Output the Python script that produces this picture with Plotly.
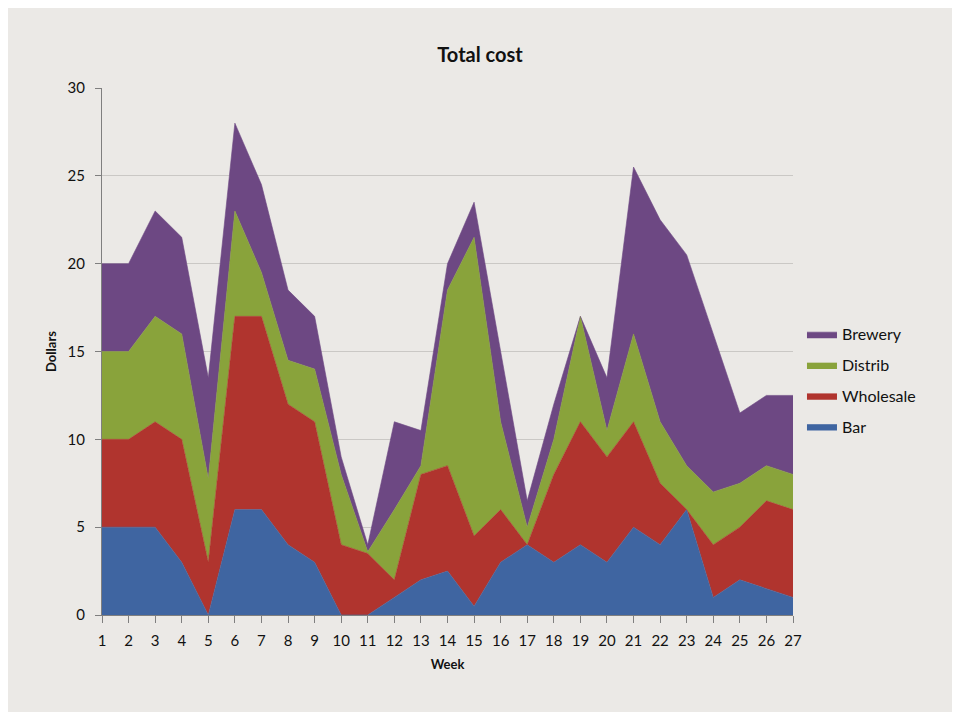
import plotly.graph_objects as go

# weekly cost per role (dollars)
weeks = list(range(1, 28))
bar = [5, 5, 5, 3, 0, 6, 6, 4, 3, 0, 0, 1, 2, 2.5, 0.5, 3, 4, 3, 4, 3, 5, 4, 6, 1, 2, 1.5, 1]
wholesale = [5, 5, 6, 7, 3, 11, 11, 8, 8, 4, 3.5, 1, 6, 6, 4, 3, 0, 5, 7, 6, 6, 3.5, 0, 3, 3, 5, 5]
distrib = [5, 5, 6, 6, 4.75, 6, 2.5, 2.5, 3, 4, 0.1, 4, 0.5, 10, 17, 5, 1, 2, 6, 1.5, 5, 3.5, 2.5, 3, 2.5, 2, 2]
brewery = [5, 5, 6, 5.5, 5.75, 5, 5, 4, 3, 1, 0.4, 5, 2, 1.5, 2, 4, 1.5, 2, 0, 3, 9.5, 11.5, 12, 9, 4, 4, 4.5]

series = [
    ("Bar", bar, "#3f65a1"),
    ("Wholesale", wholesale, "#b0342e"),
    ("Distrib", distrib, "#89a33b"),
    ("Brewery", brewery, "#6d4883"),
]

fig = go.Figure()
for i, (name, vals, color) in enumerate(series):
    fig.add_trace(go.Scatter(
        x=weeks, y=vals, name=name, legendgroup=name,
        legendrank=len(series) - i,  # Brewery listed first
        mode="lines", stackgroup="cost",
        line=dict(color=color, width=0.6),
        fillcolor=color,
    ))

# page body has an 8px margin, so the figure is sized to fit inside it
W, H = 944, 704
bg = "#ebe9e6"
fig.update_layout(
    width=W, height=H,
    paper_bgcolor=bg, plot_bgcolor=bg,
    margin=dict(l=94, r=159, t=80, b=97),
    font=dict(family="Lato, Open Sans, sans-serif", color="#111111", size=15),
    title=dict(text="<b>Total cost</b>", x=0.5, xanchor="center", y=1 - 47 / H, yanchor="middle",
               font=dict(size=20, color="#111111")),
    showlegend=True,
    legend=dict(traceorder="grouped", x=1.013, xanchor="left", y=0.565, yanchor="top",
                bgcolor="rgba(0,0,0,0)", font=dict(size=16), itemwidth=30, tracegroupgap=7),
)

fig.update_xaxes(
    range=[1, 27], tickmode="linear", tick0=1, dtick=1,
    showgrid=False, showline=True, linecolor="#7f7f7f", linewidth=1,
    ticks="outside", ticklen=7, tickcolor="#7f7f7f", ticklabelstandoff=5,
    title=dict(text="<b>Week</b>", font=dict(size=13), standoff=11),
    zeroline=False,
)
fig.update_yaxes(
    range=[0, 30], tickmode="linear", tick0=0, dtick=5,
    showgrid=True, gridcolor="#cac8c5", gridwidth=1,
    showline=True, linecolor="#7f7f7f", linewidth=1,
    ticks="outside", ticklen=6, tickcolor="#7f7f7f", ticklabelstandoff=7,
    title=dict(text="<b>Dollars</b>", font=dict(size=13), standoff=8),
    zeroline=False,
)

fig.write_html("out.html")
